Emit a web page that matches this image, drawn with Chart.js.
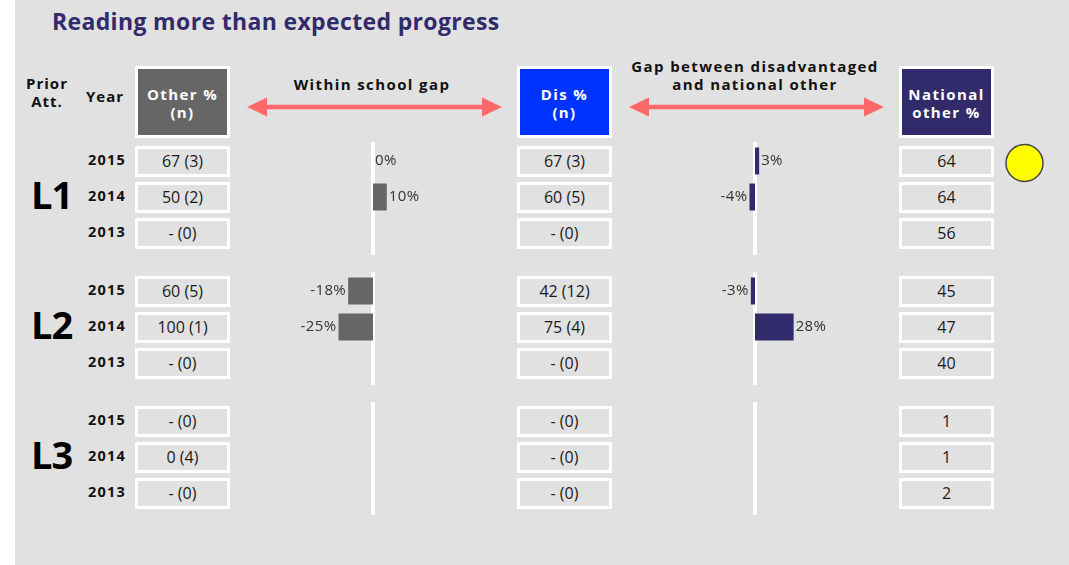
<!DOCTYPE html>
<html>
<head>
<meta charset="utf-8">
<script src="https://cdn.jsdelivr.net/npm/chart.js@4.4.1/dist/chart.umd.min.js"></script>
<style>
    body { margin: 0; width: 1069px; height: 565px; background: #fff; overflow: hidden; font-family: 'Open Sans', sans-serif; color: #1a1a1a; }
    #panel { position: absolute; left: 15px; top: 0; width: 1054px; height: 565px; background: #e1e1e1; }
    .abs { position: absolute; white-space: nowrap; }
    .title { left: 52px; top: 5px; height: 32px; line-height: 32px; font-size: 23px; font-weight: 700; color: #312a6b; letter-spacing: 0.35px; }
    .hdr { font-size: 15px; font-weight: 700; text-align: center; line-height: 18px; letter-spacing: 1.4px; color: #111; }
    .hbox { box-sizing: border-box; width: 95px; height: 72px; top: 66px; border: 3px solid #fff; color: #fff;
            display: flex; align-items: center; justify-content: center; text-align: center;
            font-size: 15px; font-weight: 700; line-height: 18px; letter-spacing: 1.4px; padding-top: 2px; }
    .cell { box-sizing: border-box; width: 95px; height: 31px; border: 3px solid #fff; text-align: center;
            font-size: 16px; line-height: 25px; color: #1a1a1a; }
    .year { width: 61px; left: 65px; text-align: right; font-size: 14.5px; font-weight: 700; letter-spacing: 1.2px; height: 20px; line-height: 20px; color: #111; }
    .grp { left: 31px; width: 48px; font-size: 38px; font-weight: 700; height: 44px; line-height: 44px; color: #000; letter-spacing: -1px; }
    canvas { position: absolute; }
</style>
</head>
<body>
<div id="panel"></div>
<div class="abs title">Reading more than expected progress</div>
<div class="abs hdr" style="left:17px; width:60px; top:74px; letter-spacing:1px;">Prior<br>Att.</div>
<div class="abs hdr" style="left:80px; width:50px; top:87px; letter-spacing:1px;">Year</div>
<div class="abs hdr" style="left:272px; width:200px; top:75px;">Within school gap</div>
<div class="abs hdr" style="left:605px; width:300px; top:57px;">Gap between disadvantaged<br>and national other</div>
<div class="abs hbox" style="left:135px; background:#666666;">Other %<br>(n)</div>
<div class="abs hbox" style="left:517px; background:#0033ff;">Dis %<br>(n)</div>
<div class="abs hbox" style="left:899px; background:#312a6b;">National<br>other %</div>

<svg class="abs" style="left:0; top:0;" width="1069" height="565">
    <g fill="#ff6868" stroke="#ff6868">
        <line x1="262" y1="107" x2="487" y2="107" stroke-width="4.5"/>
        <polygon points="247,107 267,97.5 267,116.5" stroke="none"/>
        <polygon points="502,107 482,97.5 482,116.5" stroke="none"/>
        <line x1="644" y1="107" x2="869" y2="107" stroke-width="4.5"/>
        <polygon points="629,107 649,97.5 649,116.5" stroke="none"/>
        <polygon points="884,107 864,97.5 864,116.5" stroke="none"/>
    </g>
    <circle cx="1024.5" cy="163" r="18.5" fill="#ffff00" stroke="#444" stroke-width="1.5"/>
</svg>

<div id="table"></div>

<script>
const groups = ['L1', 'L2', 'L3'];
const years = ['2015', '2014', '2013'];

// Other % (n), per group, per year
const otherPct = [
    ['67 (3)', '50 (2)', '- (0)'],
    ['60 (5)', '100 (1)', '- (0)'],
    ['- (0)', '0 (4)', '- (0)']
];
// Dis % (n)
const disPct = [
    ['67 (3)', '60 (5)', '- (0)'],
    ['42 (12)', '75 (4)', '- (0)'],
    ['- (0)', '- (0)', '- (0)']
];
// National other %
const nationalOther = [
    ['64', '64', '56'],
    ['45', '47', '40'],
    ['1', '1', '2']
];
// Within school gap (Dis - Other)
const withinGap = [
    [0, 10, null],
    [-18, -25, null],
    [null, null, null]
];
// Gap between disadvantaged and national other
const nationalGap = [
    [3, -4, null],
    [-3, 28, null],
    [null, null, null]
];

// layout
const groupTop = [143, 273, 403];
const rowH = 36;
const plotLeft = 238, plotRight = 877;
const zeroW = 373, zeroG = 755;
const pxPerPct = 1.38;

const table = document.getElementById('table');
function addDiv(cls, text, style) {
    const d = document.createElement('div');
    d.className = 'abs ' + cls;
    d.textContent = text;
    Object.assign(d.style, style);
    table.appendChild(d);
}

groups.forEach((g, gi) => {
    const top = groupTop[gi];
    addDiv('grp', g, { top: (top + rowH * 1.5 - 25) + 'px' });
    years.forEach((y, yi) => {
        const cy = top + rowH * yi + rowH / 2;
        addDiv('year', y, { top: (cy - 11) + 'px' });
        addDiv('cell', otherPct[gi][yi], { left: '135px', top: (cy - 15) + 'px' });
        addDiv('cell', disPct[gi][yi], { left: '517px', top: (cy - 15) + 'px' });
        addDiv('cell', nationalOther[gi][yi], { left: '899px', top: (cy - 15) + 'px' });
    });
});

const zeroLines = {
    id: 'zeroLines',
    beforeDatasetsDraw(chart) {
        const { ctx, chartArea } = chart;
        ctx.save();
        ctx.strokeStyle = '#ffffff';
        ctx.lineWidth = 4;
        ['xw', 'xg'].forEach(id => {
            const x = Math.round(chart.scales[id].getPixelForValue(0));
            ctx.beginPath();
            ctx.moveTo(x, chartArea.top - 1);
            ctx.lineTo(x, chartArea.bottom + 4);
            ctx.stroke();
        });
        ctx.restore();
    }
};

const valueLabels = {
    id: 'valueLabels',
    afterDatasetsDraw(chart) {
        const ctx = chart.ctx;
        ctx.save();
        ctx.font = '15px "Open Sans"';
        ctx.letterSpacing = '0.4px';
        ctx.fillStyle = '#333333';
        ctx.textBaseline = 'middle';
        chart.data.datasets.forEach((ds, i) => {
            chart.getDatasetMeta(i).data.forEach((bar, j) => {
                const v = ds.data[j];
                if (v === null) return;
                const neg = v < 0;
                ctx.textAlign = neg ? 'right' : 'left';
                ctx.fillText(v + '%', bar.x + (neg ? -2 : 2), bar.y);
            });
        });
        ctx.restore();
    }
};

const plotW = plotRight - plotLeft;

groups.forEach((g, gi) => {
    const canvas = document.createElement('canvas');
    canvas.width = plotW;
    canvas.height = rowH * 3 + 8;
    canvas.style.left = plotLeft + 'px';
    canvas.style.top = (groupTop[gi] - 2) + 'px';
    document.body.appendChild(canvas);

    new Chart(canvas, {
        type: 'bar',
        data: {
            labels: years,
            datasets: [
                { data: withinGap[gi], xAxisID: 'xw', backgroundColor: '#666666' },
                { data: nationalGap[gi], xAxisID: 'xg', backgroundColor: '#312a6b' }
            ]
        },
        options: {
            indexAxis: 'y',
            responsive: false,
            animation: false,
            layout: { padding: { top: 2, bottom: 6, left: 0, right: 0 } },
            datasets: { bar: { grouped: false, barPercentage: 0.75, categoryPercentage: 1 } },
            scales: {
                y: { display: false },
                xw: {
                    type: 'linear', axis: 'x', display: false,
                    min: -(zeroW - plotLeft) / pxPerPct,
                    max: (plotRight - zeroW) / pxPerPct
                },
                xg: {
                    type: 'linear', axis: 'x', display: false,
                    min: -(zeroG - plotLeft) / pxPerPct,
                    max: (plotRight - zeroG) / pxPerPct
                }
            },
            plugins: { legend: { display: false }, tooltip: { enabled: false } }
        },
        plugins: [zeroLines, valueLabels]
    });
});
</script>
</body>
</html>
